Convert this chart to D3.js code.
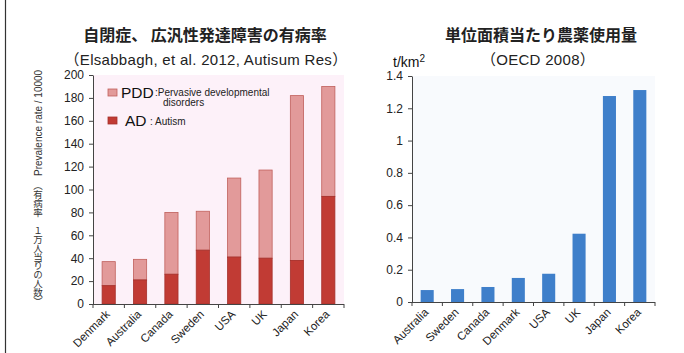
<!DOCTYPE html>
<html>
<head>
<meta charset="utf-8">
<script src="https://cdn.jsdelivr.net/npm/d3@7"></script>
<style>
  html, body { margin: 0; padding: 0; background: #fff; }
  svg { display: block; font-family: "Liberation Sans", Arial, sans-serif; }
  .jp { font-family: "Noto Sans CJK JP", sans-serif; }
  .mix { font-family: "Liberation Sans", "Noto Sans CJK JP", sans-serif; }
</style>
</head>
<body>
<svg id="chart" width="684" height="353"></svg>
<script>
/* Autism prevalence vs pesticide use, two bar charts */

const autismCountries = ["Denmark", "Australia", "Canada", "Sweden", "USA", "UK", "Japan", "Korea"];
const adValues = [16, 21, 26, 47, 41, 40, 38, 94];
const totalValues = [37, 39, 80, 81, 110, 117, 182, 190];
const autismTicks = [0, 20, 40, 60, 80, 100, 120, 140, 160, 180, 200];

const pestCountries = ["Australia", "Sweden", "Canada", "Denmark", "USA", "UK", "Japan", "Korea"];
const pestValues = [0.074, 0.08, 0.093, 0.149, 0.175, 0.423, 1.276, 1.313];
const pestTicks = [0, 0.2, 0.4, 0.6, 0.8, 1, 1.2, 1.4];

const COLORS = {
  pdd: "#e29a9a",
  pddStroke: "#c0605c",
  ad: "#c13b34",
  adStroke: "#a5302b",
  pinkBg: "#fdf1f9",
  blue: "#3f7fca",
  blueBg: "#f8fafd",
  axis: "#444",
};

const svg = d3.select("#chart");

// frame line on the left edge
svg.append("line")
  .attr("x1", 5.5).attr("x2", 5.5).attr("y1", 0).attr("y2", 353)
  .attr("stroke", "#333").attr("stroke-width", 1.2);

function drawAxes(g, x, y, ticks, fmt, plot) {
  // y axis
  const yAxis = g.append("g")
    .attr("transform", `translate(${plot.left},0)`)
    .call(d3.axisLeft(y).tickValues(ticks).tickFormat(fmt).tickSize(4).tickSizeOuter(0));
  yAxis.select(".domain").attr("stroke", COLORS.axis);
  yAxis.selectAll(".tick line").attr("stroke", COLORS.axis);
  yAxis.selectAll(".tick text")
    .attr("x", -9)
    .attr("font-size", 12)
    .attr("font-family", "Liberation Sans, Arial, sans-serif")
    .attr("fill", "#222");

  // x axis: ticks on category boundaries
  const bounds = x.domain().map((d) => x(d) - (x.step() * x.paddingInner()) / 2);
  bounds.push(plot.right);
  const xg = g.append("g");
  xg.append("line")
    .attr("x1", plot.left).attr("x2", plot.right)
    .attr("y1", plot.bottom + 0.5).attr("y2", plot.bottom + 0.5)
    .attr("stroke", COLORS.axis);
  xg.selectAll("line.xt")
    .data(bounds)
    .join("line")
    .attr("class", "xt")
    .attr("x1", (d) => d).attr("x2", (d) => d)
    .attr("y1", plot.bottom).attr("y2", plot.bottom + 4)
    .attr("stroke", COLORS.axis);
  xg.selectAll("text")
    .data(x.domain())
    .join("text")
    .attr("transform", (d) => `translate(${x(d) + x.bandwidth() / 2 + 2},${plot.bottom + 11}) rotate(-45)`)
    .attr("text-anchor", "end")
    .attr("font-size", 11.5)
    .attr("fill", "#222")
    .text((d) => d);
}

// ---------- Left chart: prevalence ----------
const L = { left: 93, right: 344, top: 75, bottom: 304 };
const gl = svg.append("g");

gl.append("rect")
  .attr("x", L.left).attr("y", L.top)
  .attr("width", L.right - L.left).attr("height", L.bottom - L.top)
  .attr("fill", COLORS.pinkBg);

const xl = d3.scaleBand().domain(autismCountries).range([L.left, L.right]).paddingInner(0.58).paddingOuter(0.29);
const yl = d3.scaleLinear().domain([0, 200]).range([L.bottom, L.top]);

gl.selectAll("rect.pdd")
  .data(autismCountries)
  .join("rect")
  .attr("class", "pdd")
  .attr("x", (d) => xl(d))
  .attr("width", xl.bandwidth())
  .attr("y", (d, i) => yl(totalValues[i]))
  .attr("height", (d, i) => yl(adValues[i]) - yl(totalValues[i]))
  .attr("fill", COLORS.pdd)
  .attr("stroke", COLORS.pddStroke)
  .attr("stroke-width", 0.8);

gl.selectAll("rect.ad")
  .data(autismCountries)
  .join("rect")
  .attr("class", "ad")
  .attr("x", (d) => xl(d))
  .attr("width", xl.bandwidth())
  .attr("y", (d, i) => yl(adValues[i]))
  .attr("height", (d, i) => yl(0) - yl(adValues[i]))
  .attr("fill", COLORS.ad)
  .attr("stroke", COLORS.adStroke)
  .attr("stroke-width", 0.8);

drawAxes(gl, xl, yl, autismTicks, d3.format("d"), L);

// legend
const lg = gl.append("g");
lg.append("rect").attr("x", 108).attr("y", 89).attr("width", 9).attr("height", 7)
  .attr("fill", COLORS.pdd).attr("stroke", COLORS.pddStroke).attr("stroke-width", 0.8);
lg.append("text").attr("x", 121).attr("y", 98).attr("font-size", 15.5).attr("fill", "#111").text("PDD");
lg.append("text").attr("x", 155).attr("y", 96).attr("font-size", 10).attr("fill", "#222").text(":Pervasive developmental");
lg.append("text").attr("x", 163).attr("y", 106).attr("font-size", 10).attr("fill", "#222").text("disorders");
lg.append("rect").attr("x", 108).attr("y", 117).attr("width", 9).attr("height", 7)
  .attr("fill", COLORS.ad).attr("stroke", COLORS.adStroke).attr("stroke-width", 0.8);
lg.append("text").attr("x", 125).attr("y", 126).attr("font-size", 15.5).attr("fill", "#111").text("AD");
lg.append("text").attr("x", 150).attr("y", 125).attr("font-size", 10).attr("fill", "#222").text(": Autism");

// titles
svg.append("text").attr("class", "jp")
  .attr("x", 205).attr("y", 41).attr("text-anchor", "middle")
  .attr("font-size", 16).attr("font-weight", 700).attr("fill", "#222")
  .text("自閉症、 広汎性発達障害の有病率");
svg.append("text").attr("class", "mix")
  .attr("x", 206).attr("y", 65).attr("text-anchor", "middle")
  .attr("font-size", 15).attr("letter-spacing", 0.3).attr("fill", "#222")
  .text("（Elsabbagh, et al. 2012, Autisum Res）");

// y label: English part rotated, Japanese part written vertically
svg.append("text")
  .attr("transform", "translate(42,176) rotate(-90)")
  .attr("font-size", 10).attr("fill", "#333")
  .text("Prevalence rate / 10000");
svg.append("text").attr("class", "jp")
  .attr("x", 38).attr("y", 181)
  .attr("font-size", 9.5).attr("letter-spacing", -0.6).attr("fill", "#333")
  .style("writing-mode", "vertical-rl")
  .text("（有病率　１万人当りの人数）");

// ---------- Right chart: pesticide use ----------
const R = { left: 412, right: 655, top: 76, bottom: 302 };
const gr = svg.append("g");

gr.append("rect")
  .attr("x", R.left).attr("y", R.top)
  .attr("width", R.right - R.left).attr("height", R.bottom - R.top)
  .attr("fill", COLORS.blueBg);

const xr = d3.scaleBand().domain(pestCountries).range([R.left, R.right]).paddingInner(0.57).paddingOuter(0.285);
const yr = d3.scaleLinear().domain([0, 1.4]).range([R.bottom, R.top]);

gr.selectAll("rect.bar")
  .data(pestCountries)
  .join("rect")
  .attr("class", "bar")
  .attr("x", (d) => xr(d))
  .attr("width", xr.bandwidth())
  .attr("y", (d, i) => yr(pestValues[i]))
  .attr("height", (d, i) => yr(0) - yr(pestValues[i]))
  .attr("fill", COLORS.blue);

drawAxes(gr, xr, yr, pestTicks, (d) => (d === 0 || d === 1 ? String(d) : d3.format(".1f")(d)), R);

svg.append("text").attr("class", "jp")
  .attr("x", 541).attr("y", 41).attr("text-anchor", "middle")
  .attr("font-size", 16).attr("font-weight", 700).attr("fill", "#222")
  .text("単位面積当たり農薬使用量");
svg.append("text").attr("class", "mix")
  .attr("x", 538).attr("y", 65).attr("text-anchor", "middle")
  .attr("font-size", 15).attr("letter-spacing", 0.3).attr("fill", "#222")
  .text("（OECD 2008）");
const unit = svg.append("text").attr("x", 393).attr("y", 67).attr("font-size", 14).attr("fill", "#111");
unit.append("tspan").text("t/km");
unit.append("tspan").attr("dy", -5).attr("font-size", 10).text("2");
</script>
</body>
</html>
